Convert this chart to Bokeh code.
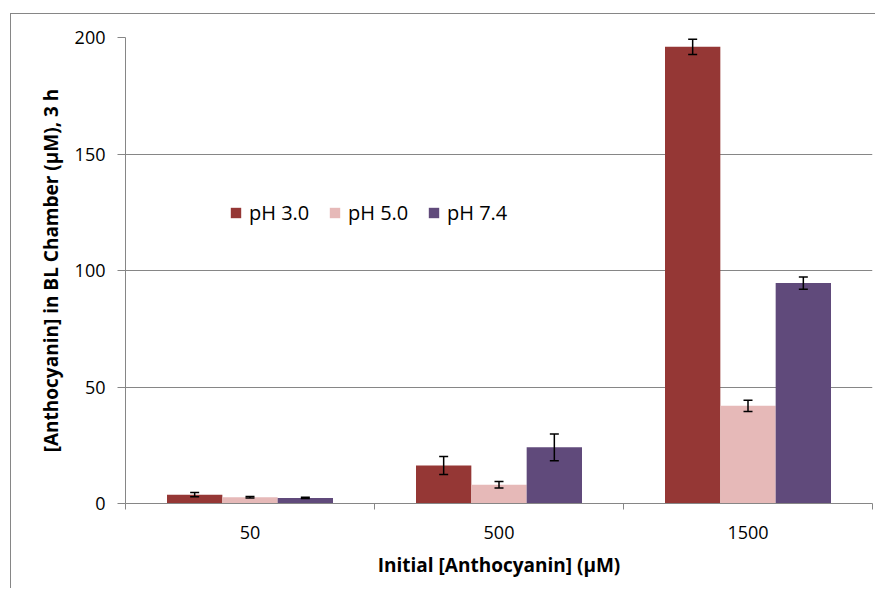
import numpy as np
from bokeh.plotting import figure
from bokeh.models import (ColumnDataSource, Whisker, TeeHead, FixedTicker, Legend,
                          LegendItem, Range1d)
from bokeh.embed import file_html
from bokeh.resources import INLINE

# ---- data ----
categories = ["50", "500", "1500"]
series_names = ["pH 3.0", "pH 5.0", "pH 7.4"]
ph30 = [3.8, 16.3, 196.0]
err30 = [0.9, 3.9, 3.3]
ph50 = [2.7, 8.0, 41.9]
err50 = [0.3, 1.4, 2.4]
ph74 = [2.4, 24.1, 94.6]
err74 = [0.3, 5.7, 2.6]
y_ticks = [0, 50, 100, 150, 200]

colors = ["#953735", "#E6B9B8", "#604A7B"]
GREY = "#868686"
FONT = "Open Sans"

p = figure(width=865, height=575, output_backend="svg", toolbar_location=None,
           x_range=Range1d(0, len(categories)), y_range=Range1d(0, 200),
           min_border_left=114, min_border_right=4, min_border_top=23,
           min_border_bottom=86,
           styles={"margin-left": "10px", "margin-top": "13px",
                   "border-left": "1px solid #868686", "border-top": "1px solid #868686"})
p.outline_line_color = None
p.background_fill_color = "white"
p.border_fill_color = "white"

xs = np.arange(len(categories)) + 0.5
bar_w = 1 / 4.5
offsets = [-bar_w, 0.0, bar_w]

renderers = []
for vals, errs, col, off in zip([ph30, ph50, ph74], [err30, err50, err74], colors, offsets):
    v = np.array(vals)
    e = np.array(errs)
    src = ColumnDataSource(dict(x=xs + off, top=v, upper=v + e, lower=v - e))
    r = p.vbar(x="x", top="top", width=bar_w, source=src, fill_color=col, line_color=None)
    renderers.append(r)
    w = Whisker(source=src, base="x", upper="upper", lower="lower",
                line_color="black", line_width=1.5, level="annotation",
                upper_head=TeeHead(size=9, line_color="black", line_width=1.5),
                lower_head=TeeHead(size=9, line_color="black", line_width=1.5))
    p.add_layout(w)

# grids
p.xgrid.visible = False
p.ygrid.grid_line_color = GREY
p.ygrid.grid_line_width = 1
p.ygrid.ticker = FixedTicker(ticks=y_ticks)

# y axis
p.yaxis.ticker = FixedTicker(ticks=y_ticks)
p.yaxis.axis_line_color = GREY
p.yaxis.major_tick_line_color = GREY
p.yaxis.major_tick_out = 8
p.yaxis.major_tick_in = 0
p.yaxis.minor_tick_line_color = None
p.yaxis.major_label_text_font = FONT
p.yaxis.major_label_text_font_size = "18px"
p.yaxis.major_label_text_color = "black"
p.yaxis.major_label_standoff = 12
p.yaxis.axis_label = "[Anthocyanin] in BL Chamber (μM), 3 h"
p.yaxis.axis_label_text_font = FONT
p.yaxis.axis_label_text_font_size = "19px"
p.yaxis.axis_label_text_font_style = "bold"
p.yaxis.axis_label_text_color = "black"
p.yaxis.axis_label_standoff = 8

# x axis
p.xaxis.ticker = FixedTicker(ticks=list(xs), minor_ticks=list(range(len(categories) + 1)))
p.xaxis.major_label_overrides = {float(x): c for x, c in zip(xs, categories)}
p.xaxis.axis_line_color = GREY
p.xaxis.major_tick_line_color = None
p.xaxis.major_tick_out = 0
p.xaxis.major_tick_in = 0
p.xaxis.minor_tick_line_color = GREY
p.xaxis.minor_tick_out = 6
p.xaxis.minor_tick_in = 0
p.xaxis.major_label_text_font = FONT
p.xaxis.major_label_text_font_size = "18px"
p.xaxis.major_label_text_color = "black"
p.xaxis.major_label_standoff = 16
p.xaxis.axis_label = "Initial [Anthocyanin] (μM)"
p.xaxis.axis_label_text_font = FONT
p.xaxis.axis_label_text_font_size = "19px"
p.xaxis.axis_label_text_font_style = "bold"
p.xaxis.axis_label_text_color = "black"
p.xaxis.axis_label_standoff = 10

# legend
legend = Legend(items=[LegendItem(label=n, renderers=[r]) for n, r in zip(series_names, renderers)],
                location=(104, 277), orientation="horizontal",
                glyph_width=13, glyph_height=13, label_standoff=7, spacing=16,
                padding=0, margin=0, border_line_color=None, background_fill_alpha=0,
                label_text_font=FONT, label_text_font_size="20px", label_text_color="black",
                label_width=63, label_height=20)
p.add_layout(legend)

open("out.html", "w").write(file_html(p, INLINE))
